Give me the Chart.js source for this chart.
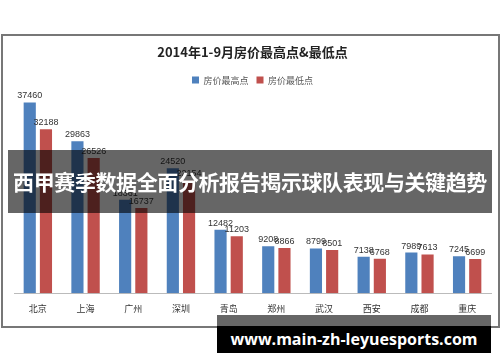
<!DOCTYPE html>
<html>
<head>
<meta charset="utf-8">
<script src="https://cdn.jsdelivr.net/npm/chart.js@4"></script>
<style>
  html, body { margin: 0; padding: 0; background: #fff; }
  body { width: 500px; height: 362px; position: relative; overflow: hidden; font-family: "Noto Sans CJK SC", sans-serif; }
  #frame { position: absolute; left: 1px; top: 34px; width: 495px; height: 290px; border: 2px solid #777; background: #fff; }
  #band { position: absolute; left: 8px; top: 150px; width: 484px; height: 63px; background: rgba(0,0,0,0.6);
    color: #fff; font: bold 21px "Noto Sans CJK SC", sans-serif; line-height: 63px; text-align: center; letter-spacing: -0.4px; white-space: nowrap; }
  #wm1 { position: absolute; left: 217px; top: 315px; width: 274px; height: 11px; background: rgba(0,0,0,0.6); }
  #wm2 { position: absolute; left: 217px; top: 326px; width: 274px; height: 27px; background: #000;
    color: #fff; font: bold 16px "Open Sans", sans-serif; line-height: 27px; text-align: center; }
</style>
</head>
<body>
<div id="frame"><canvas id="c" width="495" height="290"></canvas></div>
<div id="band">西甲赛季数据全面分析报告揭示球队表现与关键趋势</div>
<div id="wm1"></div>
<div id="wm2">www.main-zh-leyuesports.com</div>
<script>
const cities = ["北京", "上海", "广州", "深圳", "青岛", "郑州", "武汉", "西安", "成都", "重庆"];
const highPrices = [37460, 29863, 18361, 24520, 12482, 9208, 8799, 7138, 7989, 7245];
const lowPrices = [32188, 26526, 16737, 22154, 11203, 8866, 8501, 6768, 7613, 6699];

// 柱顶数值标签
const valueLabels = {
  id: "valueLabels",
  afterDatasetsDraw(chart) {
    const ctx = chart.ctx;
    ctx.save();
    ctx.font = "9px 'Liberation Sans', Arial, sans-serif";
    ctx.fillStyle = "#333";
    ctx.textAlign = "center";
    ctx.textBaseline = "bottom";
    chart.data.datasets.forEach((ds, i) => {
      chart.getDatasetMeta(i).data.forEach((bar, j) => {
        ctx.fillText(ds.data[j], bar.x, bar.y - 2);
      });
    });
    ctx.restore();
  }
};

new Chart(document.getElementById("c"), {
  type: "bar",
  data: {
    labels: cities,
    datasets: [
      { label: "房价最高点", data: highPrices, backgroundColor: "#4F81BD", barPercentage: 0.75, categoryPercentage: 0.68 },
      { label: "房价最低点", data: lowPrices, backgroundColor: "#C0504D", barPercentage: 0.75, categoryPercentage: 0.68 },
    ],
  },
  options: {
    responsive: false,
    animation: false,
    layout: { padding: { left: 11, right: 7, top: 4, bottom: 10 } },
    plugins: {
      title: { display: true, text: "2014年1-9月房价最高点&最低点", color: "#222",
        font: { size: 13, weight: "bold", family: "'Noto Sans CJK SC', sans-serif" }, padding: { top: 4, bottom: 8 } },
      legend: { position: "top", labels: { boxWidth: 7, boxHeight: 7, color: "#555", padding: 8,
        font: { size: 9, family: "'Noto Sans CJK SC', sans-serif" } } },
      tooltip: { enabled: false },
    },
    scales: {
      x: { grid: { display: false }, border: { color: "#bbb" },
        ticks: { color: "#333", font: { size: 9, family: "'Noto Sans CJK SC', sans-serif" }, padding: 2 } },
      y: { display: false, min: 0, max: 39000 },
    },
  },
  plugins: [valueLabels],
});
</script>
</body>
</html>
